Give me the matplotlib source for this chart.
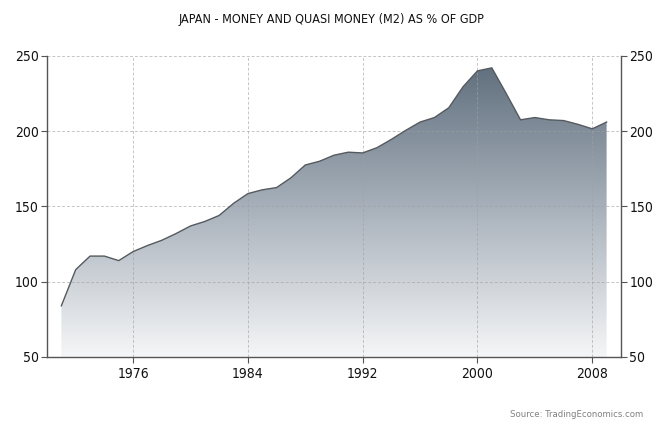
"""
Japan money and quasi money (M2) as % of GDP, area chart with gradient fill.
"""

import numpy as np
import matplotlib
matplotlib.use("Agg")
import matplotlib.pyplot as plt
from matplotlib.colors import LinearSegmentedColormap

years = list(range(1971, 2010))
m2_pct_gdp = [84, 108, 117, 117, 114, 120, 124, 127.5, 132, 137, 140, 144,
              152, 158.5, 161, 162.5, 169, 177.5, 180, 184, 186, 185.5, 189,
              194.5, 200.5, 206, 209, 215.5, 229.5, 240, 242, 225, 207.5,
              209, 207.5, 207, 204.5, 201.5, 206]
x_ticks = [1976, 1984, 1992, 2000, 2008]
y_ticks = [50, 100, 150, 200, 250]

plt.rcParams['font.family'] = ['DejaVu Sans']
plt.rcParams['font.stretch'] = 'condensed'

fig = plt.figure(figsize=(6.62, 4.26), dpi=100)
fig.patch.set_facecolor('white')
ax = fig.add_axes([0.071, 0.162, 0.867, 0.707])

ymin, ymax = 50, 250
xmin, xmax = 1970, 2010

# gradient clipped to the area under the line
cmap = LinearSegmentedColormap.from_list('slate', ['#f5f6f7', '#a7b0ba', '#5c6b7a'])
grad = np.linspace(0, 1, 256).reshape(-1, 1)
img = ax.imshow(grad, cmap=cmap, aspect='auto', origin='lower',
                extent=[xmin, xmax, ymin, ymax], zorder=1)
poly = ax.fill_between(years, m2_pct_gdp, ymin, facecolor='none', edgecolor='none')
img.set_clip_path(poly.get_paths()[0], transform=ax.transData)

ax.plot(years, m2_pct_gdp, color='#555a5f', linewidth=1.0, zorder=3)

ax.set_xlim(xmin, xmax)
ax.set_ylim(ymin, ymax)
ax.set_xticks(x_ticks)
ax.set_yticks(y_ticks)
ax.set_axisbelow(False)
ax.grid(True, color='#a0a0a0', alpha=0.6, linestyle=(0, (3, 2)), linewidth=0.7)

for side in ['left', 'right', 'bottom']:
    ax.spines[side].set_color('#555555')
    ax.spines[side].set_linewidth(1.0)
    ax.spines[side].set_zorder(4)
ax.spines['top'].set_visible(False)

ax.tick_params(axis='both', direction='out', length=4, color='#555555',
               labelsize=10, labelcolor='#111111')
ax.tick_params(axis='y', left=True, right=True, labelleft=True, labelright=True, pad=2)
ax.tick_params(axis='x', pad=3)

fig.text(0.5, 0.955, 'JAPAN - MONEY AND QUASI MONEY (M2) AS % OF GDP',
         ha='center', va='center', fontsize=9, color='#111111')
fig.text(0.971, 0.028, 'Source: TradingEconomics.com', ha='right', va='center',
         fontsize=6.8, color='#808080')

plt.savefig('out.png', dpi=100)
plt.close(fig)
